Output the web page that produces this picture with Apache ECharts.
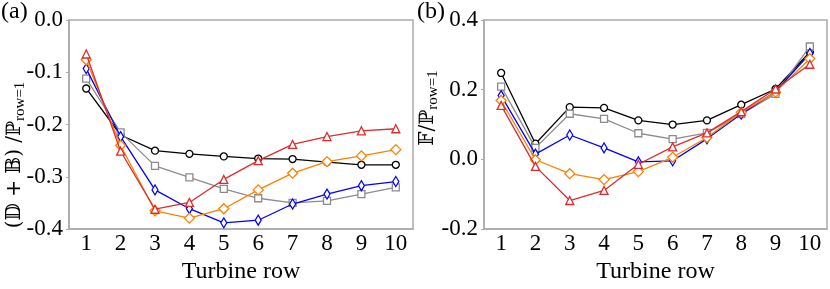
<!DOCTYPE html>
<html><head><meta charset="utf-8">
<script src="https://cdn.jsdelivr.net/npm/echarts@6/dist/echarts.min.js"></script>
<style>html,body{margin:0;padding:0;background:#fff}#c{width:830px;height:289px}</style>
</head><body><div id="c"></div>
<script>
const rows = ['1','2','3','4','5','6','7','8','9','10'];
// Panel (a): (D+B)/P_row=1
const aBlack  = [-0.131,-0.220,-0.250,-0.256,-0.261,-0.265,-0.266,-0.272,-0.277,-0.277];
const aGray   = [-0.112,-0.215,-0.279,-0.301,-0.323,-0.341,-0.350,-0.346,-0.333,-0.320];
const aBlue   = [-0.093,-0.223,-0.325,-0.361,-0.388,-0.383,-0.352,-0.333,-0.317,-0.309];
const aOrange = [-0.076,-0.240,-0.365,-0.379,-0.361,-0.325,-0.293,-0.271,-0.260,-0.248];
const aRed    = [-0.065,-0.251,-0.362,-0.349,-0.305,-0.269,-0.238,-0.223,-0.212,-0.208];
// Panel (b): F/P_row=1
const bBlack  = [0.248,0.045,0.150,0.148,0.112,0.100,0.112,0.157,0.202,0.308];
const bGray   = [0.209,0.033,0.131,0.116,0.075,0.058,0.076,0.130,0.188,0.324];
const bBlue   = [0.183,0.015,0.070,0.033,-0.007,-0.004,0.059,0.130,0.195,0.304];
const bOrange = [0.169,-0.001,-0.041,-0.058,-0.035,0.006,0.063,0.135,0.193,0.289];
const bRed    = [0.155,-0.020,-0.118,-0.089,-0.014,0.036,0.076,0.137,0.202,0.273];
const aTicks = {min:-0.4, max:0.0, interval:0.1};
const bTicks = {min:-0.2, max:0.4, interval:0.2};

const FONT = 'Liberation Serif';
const FRAME = '#aaaaaa';
const styles = [
  {c:'#000000', sym:'circle', size:7},
  {c:'#8c8c8c', sym:'rect', size:7},
  {c:'#0000ff', sym:'path://M0,-2L1,0L0,2L-1,0Z', size:[6,10]},
  {c:'#ff8000', sym:'diamond', size:10},
  {c:'#dd2c2c', sym:'triangle', size:8}
];
const chart = echarts.init(document.getElementById('c'), null, {renderer:'canvas'});
function mkSeries(datas, idx){
  return datas.map((d,i)=>({
    type:'line', xAxisIndex:idx, yAxisIndex:idx, data:d,
    symbol:styles[i].sym, symbolSize:styles[i].size, showAllSymbol:true,
    lineStyle:{color:styles[i].c, width:1.3},
    itemStyle:{color:'#fff', borderColor:styles[i].c, borderWidth:1.3},
    z: 2+i, animation:false
  }));
}
function xAx(idx){
  return {type:'category', gridIndex:idx, data:rows, boundaryGap:true,
    axisLine:{onZero:false, lineStyle:{color:FRAME, width:1.5}},
    axisTick:{alignWithLabel:true, length:3, lineStyle:{color:FRAME}},
    axisLabel:{color:'#000', fontFamily:FONT, fontSize:23, margin:3},
    name:'Turbine row', nameLocation:'middle', nameGap:25,
    nameTextStyle:{color:'#000', fontFamily:FONT, fontSize:24}};
}
function yAx(idx, t){
  return {type:'value', gridIndex:idx, min:t.min, max:t.max, interval:t.interval,
    splitLine:{show:false},
    axisLine:{show:true, onZero:false, lineStyle:{color:FRAME, width:1.5}},
    axisTick:{show:true, length:3, lineStyle:{color:FRAME}},
    axisLabel:{color:'#000', fontFamily:FONT, fontSize:23, margin:6,
      formatter:v=>{const s=Math.abs(v)<1e-9?'0.0':v.toFixed(1);return s;}}};
}
const labRich = {
  m:{fontFamily:'DejaVu Serif', fontSize:20, color:'#000'},
  s:{fontFamily:FONT, fontSize:15, color:'#000', padding:[11,0,0,0]}
};
chart.setOption({
  animation:false,
  grid:[
    {left:69, top:20, width:344, height:218.5, show:true, borderColor:FRAME, borderWidth:1.5},
    {left:484, top:20, width:343, height:218.5, show:true, borderColor:FRAME, borderWidth:1.5}
  ],
  xAxis:[xAx(0), xAx(1)],
  yAxis:[yAx(0,aTicks), yAx(1,bTicks)],
  series:[...mkSeries([aBlack,aGray,aBlue,aOrange,aRed],0), ...mkSeries([bBlack,bGray,bBlue,bOrange,bRed],1)],
  graphic:[
    {type:'text', left:1, top:0, style:{text:'(a)', font:'24px "Liberation Serif"', fill:'#000'}},
    {type:'text', left:417, top:0, style:{text:'(b)', font:'24px "Liberation Serif"', fill:'#000'}},
    {type:'text', x:15, y:155, rotation:Math.PI/2,
      style:{text:'{m|(𝔻 + 𝔹) /ℙ}{s|row=1}', rich:labRich, align:'center', verticalAlign:'middle'}},
    {type:'text', x:428, y:108, rotation:Math.PI/2,
      style:{text:'{m|𝔽/ℙ}{s|row=1}', rich:labRich, align:'center', verticalAlign:'middle'}}
  ]
});
</script></body></html>
